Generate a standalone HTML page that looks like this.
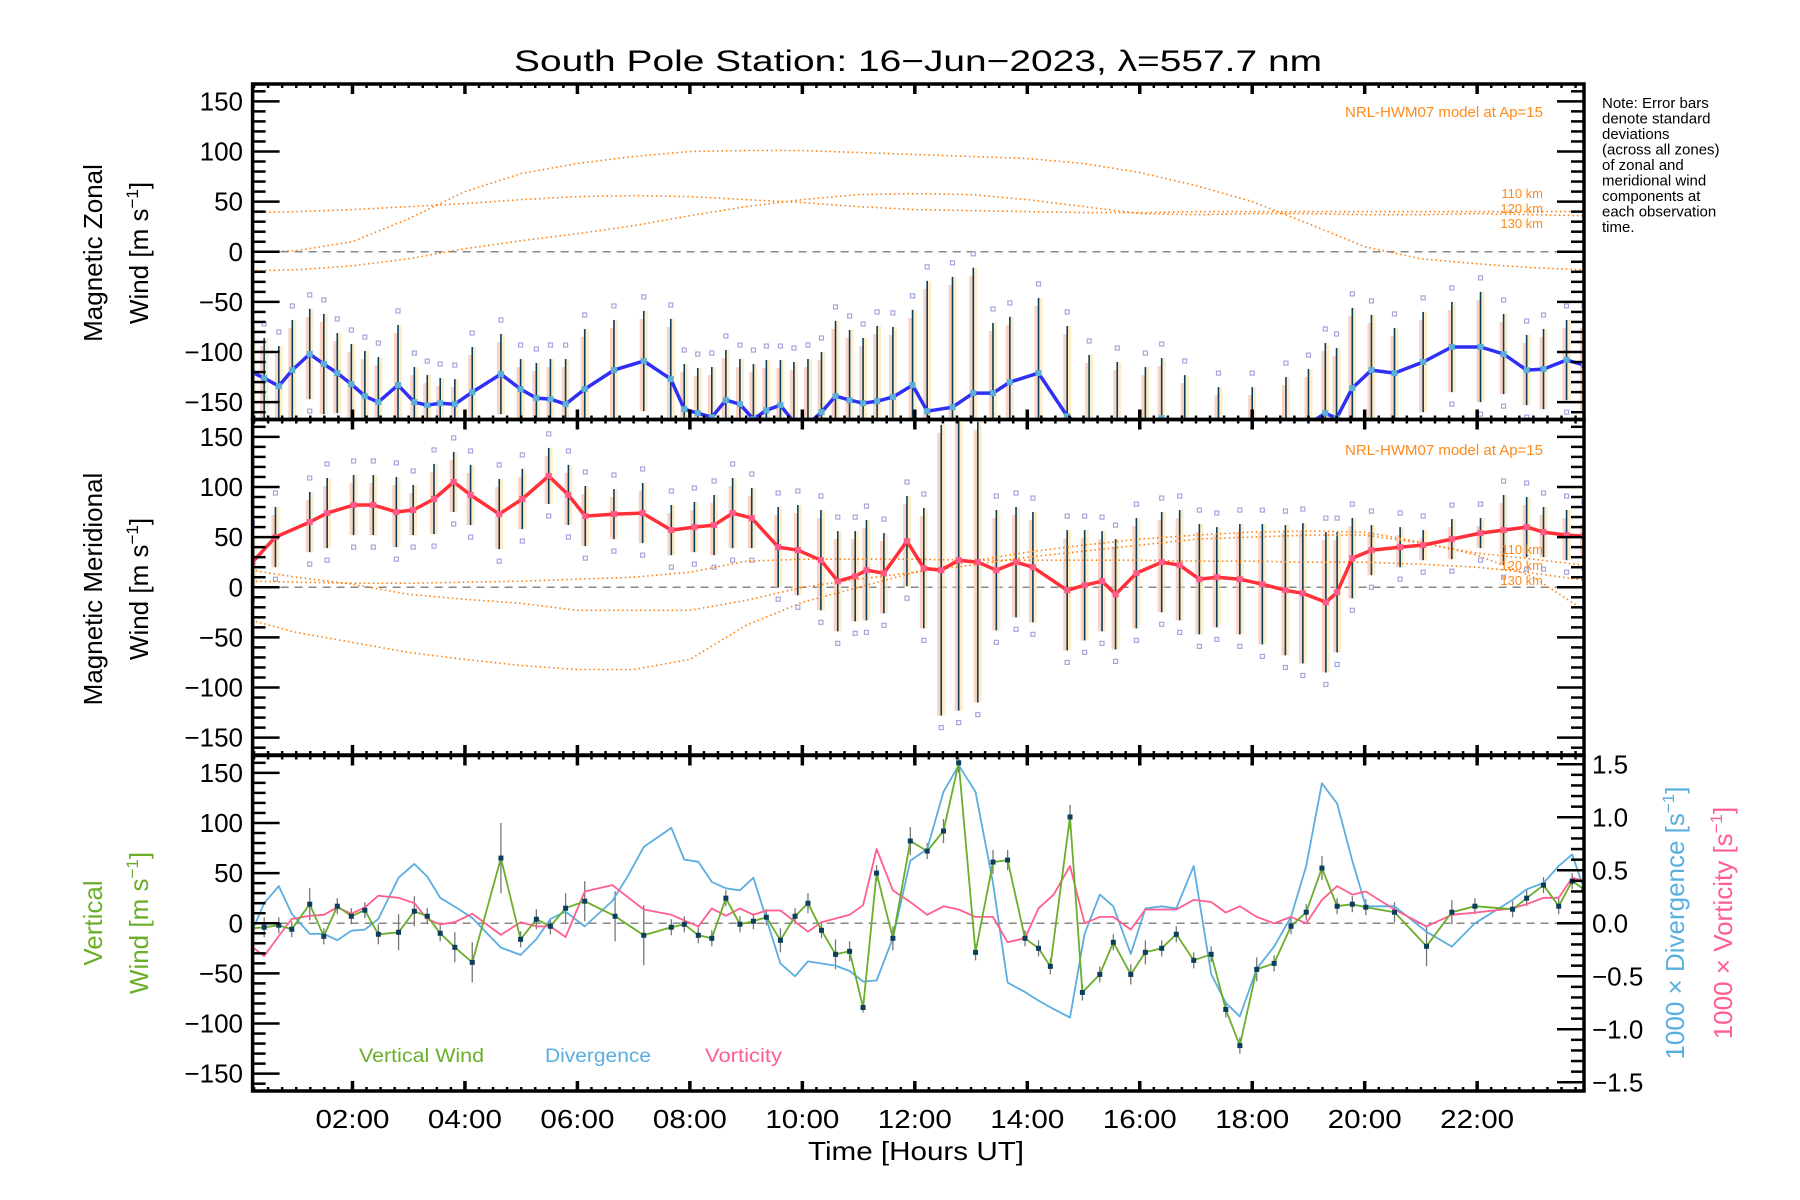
<!DOCTYPE html>
<html><head><meta charset="utf-8"><title>South Pole Station winds</title>
<style>
html,body{margin:0;padding:0;background:#fff;}
svg{display:block;font-family:"Liberation Sans",sans-serif;}
</style></head>
<body>
<svg id="chart" xmlns="http://www.w3.org/2000/svg" width="1800" height="1200" viewBox="0 0 1800 1200">
<rect x="0" y="0" width="1800" height="1200" fill="#fff"/>
<text x="918" y="71" font-size="30" text-anchor="middle" textLength="808" lengthAdjust="spacingAndGlyphs">South Pole Station: 16−Jun−2023, λ=557.7 nm</text>
<g font-size="15" fill="#000">
<text x="1602" y="108">Note: Error bars</text>
<text x="1602" y="123.5">denote standard</text>
<text x="1602" y="139">deviations</text>
<text x="1602" y="154.5">(across all zones)</text>
<text x="1602" y="170">of zonal and</text>
<text x="1602" y="185.5">meridional wind</text>
<text x="1602" y="201">components at</text>
<text x="1602" y="216.5">each observation</text>
<text x="1602" y="232">time.</text>
</g>
<g id="layer"></g>
</svg>
<script>
// ---------- DATA ----------
const zonalTimes=[0.21,0.43,0.69,0.93,1.24,1.49,1.73,1.98,2.22,2.46,2.81,3.10,3.33,3.56,3.82,4.13,4.64,4.99,5.27,5.52,5.79,6.13,6.65,7.18,7.66,7.90,8.14,8.39,8.64,8.89,9.13,9.36,9.61,9.85,10.1,10.34,10.59,10.84,11.08,11.33,11.61,11.96,12.22,12.67,13.04,13.39,13.69,14.2,14.71,15.1,15.6,16.1,16.39,16.8,17.4,18.0,18.6,19.0,19.3,19.5,19.78,20.12,20.53,21.04,21.55,22.06,22.47,22.88,23.18,23.59,23.9];
const zonalValues=[-120,-126,-134,-118,-102,-112,-121,-132,-144,-150,-133,-150,-153,-151,-152,-140,-122,-137,-146,-147,-152,-137,-118,-109,-127,-157,-161,-165,-148,-152,-167,-158,-153,-170,-172,-160,-144,-148,-151,-149,-145,-133,-159,-155,-141,-141,-130,-121,-164,-178,-180,-175,-166,-178,-185,-185,-180,-172,-161,-166,-136,-118,-121,-110,-95,-95,-102,-118,-117,-108,-113];
const zonalErrors=[45,40,40,50,45,50,40,40,45,45,60,35,30,25,25,45,40,30,35,40,45,60,50,50,60,45,45,50,50,45,55,50,45,60,65,60,75,70,65,75,70,75,130,130,125,70,65,75,90,75,70,60,60,55,50,50,55,55,70,70,80,55,45,50,45,55,40,35,40,40,45];
const meridTimes=[0.22,0.63,1.24,1.55,2.02,2.37,2.78,3.08,3.45,3.80,4.10,4.61,5.02,5.49,5.84,6.14,6.65,7.16,7.67,8.08,8.43,8.76,9.10,9.57,9.92,10.33,10.63,10.94,11.14,11.45,11.86,12.16,12.47,12.78,13.12,13.45,13.80,14.10,14.71,15.02,15.33,15.57,15.94,16.39,16.71,17.06,17.37,17.78,18.18,18.59,18.90,19.31,19.51,19.78,20.12,20.63,21.04,21.55,22.06,22.47,22.88,23.18,23.59,23.9];
const meridValues=[25,50,65,74,82,82,75,77,88,105,92,73,88,111,92,71,73,74,57,60,62,74,69,40,37,27,6,11,17,14,46,19,17,27,25,17,25,20,-3,2,6,-7,14,25,22,8,10,8,3,-3,-6,-15,-5,29,37,40,42,48,54,57,60,55,52,51];
const meridErrors=[25,30,30,35,30,30,35,25,35,30,30,35,30,28,30,30,25,30,25,25,30,35,30,40,45,50,50,45,50,40,45,60,145,150,140,60,55,55,60,55,50,55,55,50,55,55,50,55,60,65,70,70,60,40,25,20,15,20,15,35,30,25,25,20];
const vertTimes=[0.21,0.43,0.69,0.92,1.24,1.49,1.73,1.98,2.22,2.46,2.82,3.10,3.33,3.56,3.82,4.13,4.64,4.99,5.27,5.52,5.79,6.13,6.67,7.18,7.67,7.90,8.15,8.39,8.64,8.89,9.13,9.36,9.61,9.87,10.10,10.34,10.59,10.84,11.08,11.32,11.61,11.92,12.22,12.51,12.78,13.08,13.39,13.65,13.96,14.2,14.41,14.76,14.98,15.29,15.53,15.84,16.1,16.39,16.65,16.96,17.27,17.53,17.78,18.08,18.39,18.69,18.96,19.24,19.51,19.78,20.02,20.53,21.1,21.55,21.96,22.63,22.88,23.18,23.45,23.69,23.9];
const vertValues=[-5,-4,-2,-6,19,-13,17,7,13,-11,-9,12,7,-10,-24,-39,65,-16,4,-3,15,22,7,-12,-4,-1,-12,-15,25,-1,2,6,-17,7,20,-7,-31,-28,-84,50,-15,82,72,92,160,-29,61,63,-15,-25,-43,106,-69,-51,-19,-51,-29,-25,-11,-37,-31,-86,-122,-46,-40,-3,11,55,17,19,16,11,-23,11,17,14,25,38,17,42,34];
const vertErrors=[8,10,8,8,16,8,8,8,8,10,18,15,8,8,15,20,35,8,10,8,15,20,25,30,8,8,8,8,8,8,8,8,12,8,10,8,15,10,5,8,12,14,8,12,10,8,12,10,8,8,8,12,8,8,8,10,12,8,8,8,8,8,8,12,8,8,8,12,8,8,8,10,20,12,8,8,8,8,8,8,8];
const divTimes=[0.21,0.43,0.69,0.92,1.24,1.49,1.73,1.98,2.22,2.46,2.82,3.10,3.33,3.56,3.90,4.13,4.64,4.99,5.27,5.52,5.79,6.13,6.62,6.89,7.18,7.67,7.90,8.15,8.39,8.64,8.89,9.13,9.61,9.87,10.10,10.59,10.84,11.08,11.32,11.61,11.92,12.22,12.51,12.78,13.08,13.39,13.65,13.96,14.2,14.47,14.76,15.02,15.29,15.53,15.84,16.1,16.39,16.65,16.96,17.27,17.53,17.78,18.08,18.39,18.69,18.96,19.24,19.51,19.78,20.02,20.53,21.1,21.55,21.96,22.63,22.88,23.18,23.45,23.69,23.9];
const divValues=[-0.08,0.19,0.35,0.09,-0.10,-0.10,-0.16,-0.07,-0.06,0.04,0.43,0.56,0.44,0.24,0.13,0.05,-0.23,-0.30,-0.15,0.04,0.11,-0.03,0.21,0.44,0.72,0.90,0.60,0.58,0.39,0.33,0.31,0.43,-0.38,-0.50,-0.36,-0.40,-0.45,-0.55,-0.54,-0.14,0.59,0.70,1.24,1.49,1.24,0.38,-0.56,-0.65,-0.73,-0.81,-0.89,-0.10,0.27,0.16,-0.29,0.14,0.16,0.14,0.54,-0.48,-0.75,-0.88,-0.43,-0.22,0.06,0.54,1.32,1.13,0.59,0.16,0.16,-0.08,-0.22,0.0,0.22,0.32,0.38,0.54,0.65,0.32];
const vortTimes=[0.21,0.43,0.69,0.92,1.24,1.49,1.73,1.98,2.22,2.46,2.82,3.10,3.33,3.56,3.82,4.13,4.64,4.99,5.27,5.52,5.79,6.13,6.62,7.18,7.67,8.15,8.39,8.64,8.89,9.13,9.36,9.61,10.10,10.34,10.84,11.08,11.32,11.61,11.92,12.22,12.51,12.78,13.08,13.39,13.65,13.96,14.2,14.47,14.76,15.02,15.29,15.53,15.84,16.1,16.39,16.65,16.96,17.27,17.53,17.78,18.08,18.39,18.69,18.96,19.24,19.51,19.78,20.02,20.53,21.1,21.55,21.96,22.63,22.88,23.18,23.45,23.69,23.9];
const vortValues=[-0.22,-0.31,-0.12,0.04,0.07,0.08,0.15,0.09,0.15,0.26,0.24,0.19,0.04,-0.01,0.01,0.09,-0.11,0.01,-0.03,-0.03,-0.13,0.30,0.36,0.13,0.08,-0.03,0.14,0.07,0.14,0.08,0.12,0.12,-0.08,0.01,0.08,0.17,0.70,0.31,0.20,0.08,0.16,0.13,0.06,0.06,-0.18,-0.14,0.14,0.27,0.54,0.0,0.06,0.06,-0.06,0.13,0.13,0.13,0.22,0.20,0.10,0.16,0.06,0.0,0.06,0.0,0.22,0.35,0.27,0.30,0.13,-0.03,0.08,0.10,0.14,0.18,0.24,0.24,0.43,0.40];
const modelTimes=[0.2,1,2,3,4,5,6,7,8,9,10,11,12,13,14,15,16,17,18,19,20,21,22,23,23.9];
const zonalModelA=[39,40,42,45,48,52,55,56,55,52,49,45,42,41,40,39,39,40,40,40,40,40,40,40,40];
const zonalModelB=[0,1,10,33,60,78,88,95,100,101,101,99,97,95,93,88,79,66,50,28,5,-7,-12,-16,-18];
const zonalModelC=[-19,-18,-14,-7,3,11,18,26,36,45,52,57,58,57,52,45,38,37,38,38,37,37,38,37,36];
const meridModelD=[6,5,4,4,5,6,8,10,15,26,28,28,28,27,27,27,27,26,26,25,25,23,20,14,7];
const meridModelE=[17,10,3,-7,-12,-16,-23,-23,-23,-13,0,8,15,22,30,36,42,48,50,52,52,44,34,28,22];
const meridModelF=[-33,-45,-55,-65,-72,-78,-82,-82,-72,-38,-15,0,15,26,35,42,48,52,55,56,55,45,32,10,-23];
const xTickHours=[2,4,6,8,10,12,14,16,18,20,22];
const xTickLabels=["02:00","04:00","06:00","08:00","10:00","12:00","14:00","16:00","18:00","20:00","22:00"];
const yTickValues=[-150,-100,-50,0,50,100,150];
const yTickLabels=["−150","−100","−50","0","50","100","150"];
const rTickValues=[-1.5,-1.0,-0.5,0.0,0.5,1.0,1.5];
const rTickLabels=["−1.5","−1.0","−0.5","0.0","0.5","1.0","1.5"];

// ---------- LAYOUT ----------
const NS="http://www.w3.org/2000/svg";
const L=252.6,R=1584,TMIN=0.224,TMAX=23.9;
const PT=[84,419.5,755.5],PH=335.5,VMAX=167.3;
function xs(t){return L+(t-TMIN)/(TMAX-TMIN)*(R-L);}
function ys(p,v){return PT[p]+PH/2-v*(PH/2)/VMAX;}
function yr(v){return PT[2]+PH/2-v*106;}
const layer=document.getElementById('layer');
function mk(tag,attrs,parent){const e=document.createElementNS(NS,tag);for(const k in attrs)e.setAttribute(k,attrs[k]);(parent||layer).appendChild(e);return e;}

const defs=mk('defs',{});
for(let p=0;p<3;p++){const c=mk('clipPath',{id:'clip'+p},defs);mk('rect',{x:L,y:PT[p],width:R-L,height:PH},c);}

function line(p,ts,vs,name,color,width,right,dash){
  const g=mk('g',{'clip-path':'url(#clip'+p+')'});
  const pts=ts.map((t,i)=>xs(t).toFixed(1)+','+(right?yr(vs[i]):ys(p,vs[i])).toFixed(1)).join(' ');
  const pl=mk('polyline',{points:pts,fill:'none',stroke:color,'stroke-width':width,'stroke-linejoin':'round'},g);
  if(dash)pl.setAttribute('stroke-dasharray',dash);
  
  
  return g;
}
function zeroLine(p){
  const z=mk('line',{x1:L,x2:R,y1:ys(p,0),y2:ys(p,0),stroke:'#888','stroke-width':1.5,'stroke-dasharray':'8,6'});
  
  
}
function errBars(p,ts,vs,es,name,color,pale){
  const g=mk('g',{'clip-path':'url(#clip'+p+')'});
  
  
  ts.forEach((t,i)=>{
    const x=xs(t),y1=ys(p,vs[i]+es[i]),y2=ys(p,vs[i]-es[i]);
    if(pale){
      mk('rect',{x:x-4,y:y1+8,width:4,height:Math.max(0,y2-y1-8),fill:'#f9c0a8',opacity:0.7},g);
      mk('rect',{x:x,y:y1,width:4,height:Math.max(0,y2-y1),fill:'#fbe3a6',opacity:0.6},g);
      mk('rect',{x:x-2,y:y1-16,width:4,height:4,fill:'none',stroke:'#a8a4dc','stroke-width':1.2},g);
      mk('rect',{x:x-2,y:y2+10,width:4,height:4,fill:'none',stroke:'#a8a4dc','stroke-width':1.2},g);
    }
    const b=mk('line',{x1:x,x2:x,y1:y1,y2:y2,stroke:color,'stroke-width':pale?1.6:1.3},g);
    
    
  });
}
function markers(p,ts,vs,name,fill,size){
  const g=mk('g',{'clip-path':'url(#clip'+p+')'});
  
  
  ts.forEach((t,i)=>{
    const m=mk('rect',{x:xs(t)-size/2,y:ys(p,vs[i])-size/2,width:size,height:size,fill:fill},g);
    
    
  });
}
function axes(p,rightAxis){
  const g=mk('g',{stroke:'#000'});
  
  
  mk('rect',{x:L,y:PT[p],width:R-L,height:PH,fill:'none','stroke-width':3.5},g);
  for(let v=-160;v<=160;v+=10){
    const y=ys(p,v),maj=v%50===0,len=maj?27:13;
    mk('line',{x1:L,x2:L+len,y1:y,y2:y,'stroke-width':2.5},g);
    if(!rightAxis)mk('line',{x1:R,x2:R-len,y1:y,y2:y,'stroke-width':2.5},g);
  }
  if(rightAxis){
    for(let v=-15;v<=15;v++){const y=yr(v/10),maj=v%5===0,len=maj?27:13;
      mk('line',{x1:R,x2:R-len,y1:y,y2:y,'stroke-width':2.5},g);}
  }
  for(let t=0.25;t<24;t+=0.25){
    if(t<TMIN||t>TMAX)continue;
    const x=xs(t),maj=Math.abs(t/2-Math.round(t/2))<1e-6,len=maj?10:4;
    mk('line',{x1:x,x2:x,y1:PT[p],y2:PT[p]+len,'stroke-width':maj?3.5:2.5},g);
    mk('line',{x1:x,x2:x,y1:PT[p]+PH,y2:PT[p]+PH-len,'stroke-width':maj?3.5:2.5},g);
  }
  yTickValues.forEach((v,i)=>{
    const tx=mk('text',{x:243,y:ys(p,v)+9,'font-size':26,'text-anchor':'end',stroke:'none',fill:'#000'});
    tx.textContent=yTickLabels[i];
    
    
  });
}
function modelText(p,yNrl,ys3){
  const t=mk('text',{x:1543,y:yNrl,'font-size':15,'text-anchor':'end',fill:'#ff8a1a'});
  t.textContent='NRL-HWM07 model at Ap=15';
  
  
  ['110 km','120 km','130 km'].forEach((s,i)=>{
    const k=mk('text',{x:1543,y:ys3[i],'font-size':13,'text-anchor':'end',fill:'#ff8a1a'});
    k.textContent=s;
    
    
  });
}
function vlabel(x,y,txt,color,name,size){
  const t=mk('text',{x:0,y:0,transform:'translate('+x+','+y+') rotate(-90)','font-size':size||26,'text-anchor':'middle',fill:color});
  t.innerHTML=txt;
  
  
}

// ---------- PANEL 1: ZONAL ----------
zeroLine(0);
errBars(0,zonalTimes,zonalValues,zonalErrors,'zonal-error-bars','#0b3d5c',true);
line(0,modelTimes,zonalModelA,'zonal-model-110km','#ff7f0e',1.6,false,'1.5,3');
line(0,modelTimes,zonalModelB,'zonal-model-120km','#ff7f0e',1.6,false,'1.5,3');
line(0,modelTimes,zonalModelC,'zonal-model-130km','#ff7f0e',1.6,false,'1.5,3');
line(0,zonalTimes,zonalValues,'zonal-wind-line','#2f2ff5',3.5);
markers(0,zonalTimes,zonalValues,'zonal-points','#5ab0d8',6);
axes(0,false);
modelText(0,117,[198,213,228]);
vlabel(102,253,'Magnetic Zonal','#000','y-axis-title-zonal');
vlabel(148,253,'Wind [m s<tspan dy="-10" font-size="17">−1</tspan><tspan dy="10">]</tspan>','#000','y-axis-units-zonal');

// ---------- PANEL 2: MERIDIONAL ----------
zeroLine(1);
errBars(1,meridTimes,meridValues,meridErrors,'meridional-error-bars','#0b3d5c',true);
line(1,modelTimes,meridModelD,'meridional-model-130km','#ff7f0e',1.6,false,'1.5,3');
line(1,modelTimes,meridModelE,'meridional-model-120km','#ff7f0e',1.6,false,'1.5,3');
line(1,modelTimes,meridModelF,'meridional-model-110km','#ff7f0e',1.6,false,'1.5,3');
line(1,meridTimes,meridValues,'meridional-wind-line','#ff3038',3.5);
markers(1,meridTimes,meridValues,'meridional-points','#ff5a8a',6);
axes(1,false);
modelText(1,455,[554,570,585]);
vlabel(102,589,'Magnetic Meridional','#000','y-axis-title-meridional');
vlabel(148,589,'Wind [m s<tspan dy="-10" font-size="17">−1</tspan><tspan dy="10">]</tspan>','#000','y-axis-units-meridional');

// ---------- PANEL 3: VERTICAL ----------
zeroLine(2);
errBars(2,vertTimes,vertValues,vertErrors,'vertical-error-bars','#777',false);
line(2,divTimes,divValues,'divergence-line','#5aaee0',1.8,true);
line(2,vortTimes,vortValues,'vorticity-line','#ff5e8e',1.8,true);
line(2,vertTimes,vertValues,'vertical-wind-line','#6aae2a',1.8);
markers(2,vertTimes,vertValues,'vertical-wind-points','#0b3d5c',5);
axes(2,true);
rTickValues.forEach((v,i)=>{
  const tx=mk('text',{x:1592,y:yr(v)+9,'font-size':26,fill:'#000'});
  tx.textContent=rTickLabels[i];
  
  
});
vlabel(102,923,'Vertical','#6aae2a','y-axis-title-vertical');
vlabel(148,923,'Wind [m s<tspan dy="-10" font-size="17">−1</tspan><tspan dy="10">]</tspan>','#6aae2a','y-axis-units-vertical');
vlabel(1684,923,'1000 × Divergence [s<tspan dy="-10" font-size="17">−1</tspan><tspan dy="10">]</tspan>','#5aaee0','right-axis-title-divergence');
vlabel(1732,923,'1000 × Vorticity [s<tspan dy="-10" font-size="17">−1</tspan><tspan dy="10">]</tspan>','#ff5e8e','right-axis-title-vorticity');

[['Vertical Wind','#6aae2a',359,125],['Divergence','#5aaee0',545,106],['Vorticity','#ff5e8e',705,77]].forEach(l=>{
  const t=mk('text',{x:l[2],y:1062,'font-size':19,fill:l[1],textLength:l[3],lengthAdjust:'spacingAndGlyphs'});
  t.textContent=l[0];
  
  
});

xTickHours.forEach((h,i)=>{
  const t=mk('text',{x:xs(h),y:1128,'font-size':26,'text-anchor':'middle',fill:'#000',textLength:74,lengthAdjust:'spacingAndGlyphs'});
  t.textContent=xTickLabels[i];
  
  
});
const xt=mk('text',{x:916,y:1160,'font-size':26,'text-anchor':'middle',fill:'#000',textLength:216,lengthAdjust:'spacingAndGlyphs'});
xt.textContent='Time [Hours UT]';


</script>
</body></html>
